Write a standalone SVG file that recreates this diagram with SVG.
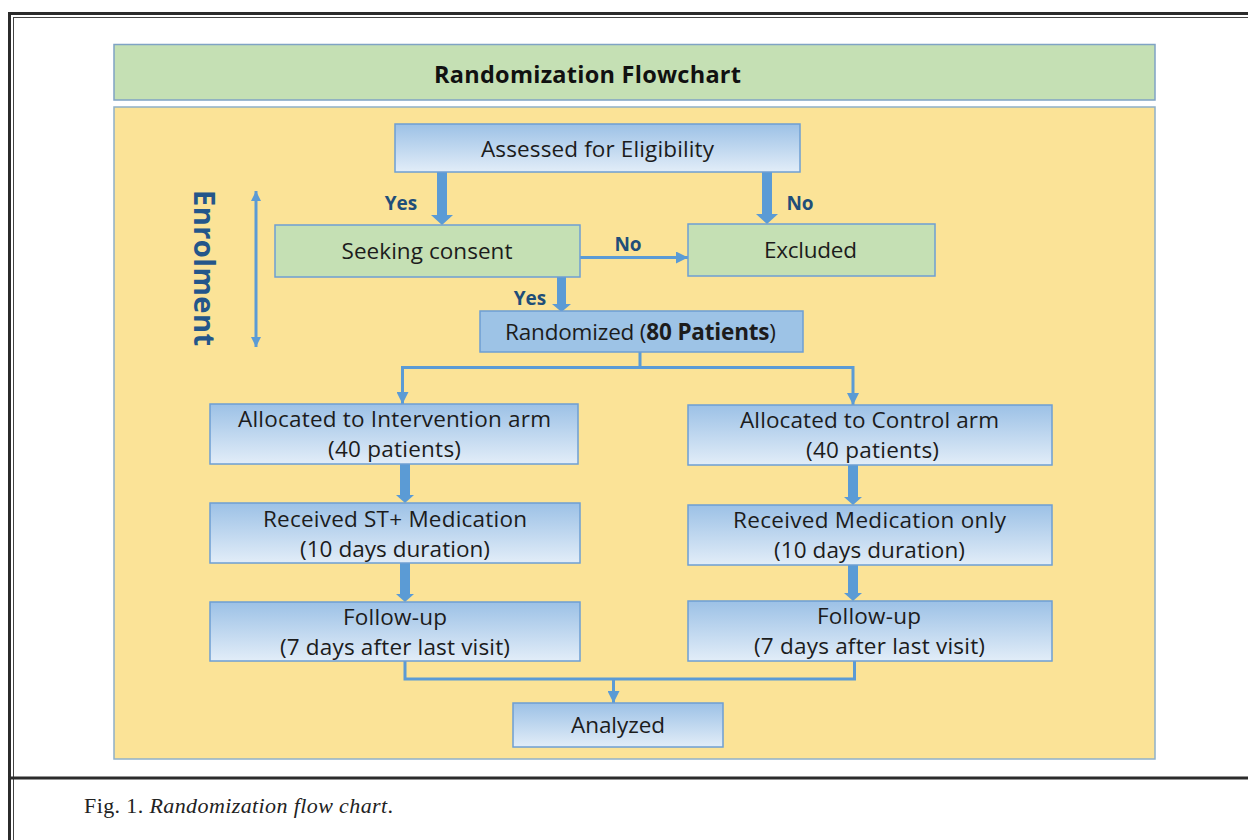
<svg xmlns="http://www.w3.org/2000/svg" width="1248" height="840" viewBox="0 0 1248 840">
<style>
.t{font-family:"Open Sans","Liberation Sans",sans-serif;font-size:22.5px;fill:#1c1c1c;text-anchor:middle}
.lab{font-family:"Open Sans","Liberation Sans",sans-serif;font-size:19px;font-weight:bold;fill:#1f4e79;text-anchor:middle}
.gbox{fill:url(#bg);stroke:#6e9fd3;stroke-width:1.5}
.green{fill:#c5e0b4;stroke:#6e9fd3;stroke-width:1.5}
.thin{fill:none;stroke:#5b9bd5;stroke-width:3}
.blk{fill:#5b9bd5}
</style>
<defs>
<linearGradient id="bg" x1="0" y1="0" x2="0" y2="1">
<stop offset="0" stop-color="#9cc1e6"/>
<stop offset="1" stop-color="#e2edf8"/>
</linearGradient>
<marker id="ah" markerUnits="userSpaceOnUse" markerWidth="12" markerHeight="12" refX="10" refY="5" orient="auto" viewBox="0 0 10 10">
<path d="M0,0 L10,5 L0,10 z" fill="#5b9bd5"/>
</marker>
<marker id="ahs" markerUnits="userSpaceOnUse" markerWidth="10" markerHeight="10" refX="10" refY="5" orient="auto-start-reverse" viewBox="0 0 10 10">
<path d="M0,0 L10,5 L0,10 z" fill="#5b9bd5"/>
</marker>
</defs>
<rect width="1248" height="840" fill="#ffffff"/>
<!-- frame -->
<g id="frame" fill="none">
<line x1="9.5" y1="12" x2="9.5" y2="840" stroke="#2b2b2b" stroke-width="3"/>
<line x1="13.5" y1="17" x2="13.5" y2="840" stroke="#444" stroke-width="1"/>
<line x1="8" y1="13.5" x2="1248" y2="13.5" stroke="#2b2b2b" stroke-width="3"/>
<line x1="13" y1="17.5" x2="1248" y2="17.5" stroke="#444" stroke-width="1"/>
<line x1="8" y1="778" x2="1248" y2="778" stroke="#2b2b2b" stroke-width="3"/>
</g>
<!-- panels -->
<g id="header">
<rect x="114" y="44.5" width="1041" height="55.5" fill="#c5e0b4" stroke="#7fa3c4" stroke-width="1.5"/>
<text x="587.5" y="83" style="font-family:'Open Sans','Liberation Sans',sans-serif;font-size:23.5px;font-weight:bold;fill:#111;text-anchor:middle" textLength="307">Randomization Flowchart</text>
</g>
<g id="panel">
<rect x="114" y="107" width="1041" height="652" fill="#fbe397" stroke="#8fb0c8" stroke-width="1.5"/>
</g>
<g id="enrolment">
<text transform="translate(194,190) rotate(90)" style="font-family:'Open Sans','Liberation Sans',sans-serif;font-size:29px;font-weight:bold;fill:#24568a" textLength="156">Enrolment</text>
<line x1="256" y1="191" x2="256" y2="347" class="thin" stroke-width="2" marker-start="url(#ahs)" marker-end="url(#ahs)"/>
</g>
<!-- connectors -->
<g id="connectors">
<polygon class="blk" points="437,172 447,172 447,215 453,215 442,225 431,215 437,215"/>
<polygon class="blk" points="762,172 772,172 772,214 778,214 767,224 756,214 762,214"/>
<polygon class="blk" points="557,277 566,277 566,304 571,304 561.5,312 552,304 557,304"/>
<line x1="580" y1="257.5" x2="688" y2="257.5" class="thin" marker-end="url(#ah)"/>
<polyline points="640,352 640,367.5 402.5,367.5 402.5,404" class="thin" marker-end="url(#ah)"/>
<polyline points="640,367.5 853,367.5 853,405" class="thin" marker-end="url(#ah)"/>
<polygon class="blk" points="400,464 410,464 410,495 414,495 405,503 396,495 400,495"/>
<polygon class="blk" points="848,465 858,465 858,497 862,497 853,505 844,497 848,497"/>
<polygon class="blk" points="400,563 410,563 410,594 414,594 405,602 396,594 400,594"/>
<polygon class="blk" points="848,565 858,565 858,593 862,593 853,601 844,593 848,593"/>
<polyline points="405,661 405,679 854.5,679 854.5,661" class="thin"/>
<line x1="613.5" y1="679" x2="613.5" y2="703" class="thin" marker-end="url(#ah)"/>
<text x="401" y="210" class="lab">Yes</text>
<text x="800" y="210" class="lab">No</text>
<text x="628" y="251" class="lab">No</text>
<text x="530" y="305" class="lab">Yes</text>
</g>
<!-- nodes -->
<g id="assessed">
<rect x="395" y="124" width="405" height="48" class="gbox"/>
<text x="597.5" y="157" class="t" textLength="233">Assessed for Eligibility</text>
</g>
<g id="seeking">
<rect x="275" y="225" width="305" height="52" class="green"/>
<text x="427" y="259" class="t" textLength="171">Seeking consent</text>
</g>
<g id="excluded">
<rect x="688" y="224" width="247" height="52" class="green"/>
<text x="810.5" y="258" class="t" textLength="93">Excluded</text>
</g>
<g id="randomized">
<rect x="480" y="311" width="323" height="41" fill="#9dc3e6" stroke="#6e9fd3" stroke-width="1.5"/>
<text x="640.5" y="340" class="t" textLength="271">Randomized (<tspan font-weight="bold">80 Patients</tspan>)</text>
</g>
<g id="intervention">
<rect x="210" y="404" width="368" height="60" class="gbox"/>
<text x="394.5" y="427" class="t" textLength="313">Allocated to Intervention arm</text>
<text x="394.5" y="457" class="t" textLength="133">(40 patients)</text>
</g>
<g id="control">
<rect x="688" y="405" width="364" height="60" class="gbox"/>
<text x="869.5" y="428" class="t" textLength="259">Allocated to Control arm</text>
<text x="872.5" y="458" class="t" textLength="133">(40 patients)</text>
</g>
<g id="st-medication">
<rect x="210" y="503" width="370" height="60" class="gbox"/>
<text x="395" y="527" class="t" textLength="264">Received ST+ Medication</text>
<text x="395" y="557" class="t" textLength="190">(10 days duration)</text>
</g>
<g id="medication-only">
<rect x="688" y="505" width="364" height="60" class="gbox"/>
<text x="869.5" y="528" class="t" textLength="273">Received Medication only</text>
<text x="869.5" y="558" class="t" textLength="191">(10 days duration)</text>
</g>
<g id="followup-left">
<rect x="210" y="602" width="370" height="59" class="gbox"/>
<text x="395" y="625" class="t" textLength="104">Follow-up</text>
<text x="395" y="655" class="t" textLength="230">(7 days after last visit)</text>
</g>
<g id="followup-right">
<rect x="688" y="601" width="364" height="60" class="gbox"/>
<text x="869" y="624" class="t" textLength="104">Follow-up</text>
<text x="869.5" y="654" class="t" textLength="231">(7 days after last visit)</text>
</g>
<g id="analyzed">
<rect x="513" y="703" width="210" height="44" class="gbox"/>
<text x="618" y="733" class="t" textLength="94">Analyzed</text>
</g>
<!-- caption -->
<text x="84" y="813" style="font-family:'Liberation Serif',serif;font-size:22px;fill:#222" textLength="309">Fig. 1. <tspan font-style="italic">Randomization flow chart</tspan>.</text>
</svg>
